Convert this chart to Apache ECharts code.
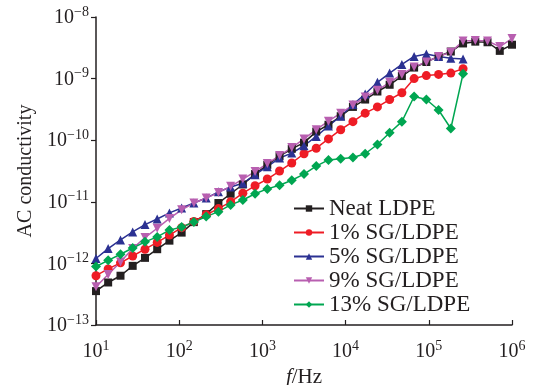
<!DOCTYPE html>
<html>
<head>
<meta charset="utf-8">
<script src="https://cdn.jsdelivr.net/npm/echarts@6/dist/echarts.min.js"></script>
<style>
  html, body { margin: 0; padding: 0; background: #fff; }
  #chart { width: 535px; height: 385px; }
</style>
</head>
<body>
<div id="chart"></div>
<script>
// frequency (Hz)
var freq = [10, 14, 19.7, 27.6, 38.8, 54.4, 76.3, 107, 150, 211, 296, 415, 582, 816, 1145, 1607, 2254, 3162,
  4437, 6225, 8733, 12250, 17190, 24120, 33840, 47480, 66610, 93450, 131100, 184000, 258100, 362100, 508000, 712800, 1000000];

var neatLDPE = [3.55e-13, 4.90e-13, 6.31e-13, 9.12e-13, 1.23e-12, 1.70e-12, 2.34e-12, 3.16e-12, 4.68e-12, 6.31e-12,
  9.55e-12, 1.35e-11, 1.91e-11, 2.82e-11, 3.98e-11, 5.50e-11, 7.24e-11, 9.12e-11, 1.38e-10, 1.78e-10,
  2.45e-10, 3.47e-10, 4.57e-10, 6.17e-10, 7.94e-10, 1.10e-9, 1.51e-9, 1.86e-9, 2.29e-9, 2.75e-9,
  3.72e-9, 3.98e-9, 3.89e-9, 2.82e-9, 3.55e-9];

var sg1 = [6.31e-13, 8.13e-13, 1.02e-12, 1.32e-12, 1.70e-12, 2.19e-12, 2.88e-12, 3.80e-12, 4.79e-12, 6.17e-12,
  7.76e-12, 1.00e-11, 1.38e-11, 1.82e-11, 2.34e-11, 3.16e-11, 4.27e-11, 6.03e-11, 7.41e-11, 1.05e-10,
  1.48e-10, 2.00e-10, 2.75e-10, 3.47e-10, 4.57e-10, 5.89e-10, 1.00e-9, 1.12e-9, 1.17e-9, 1.23e-9,
  1.45e-9];

var sg5 = [1.20e-12, 1.74e-12, 2.40e-12, 3.24e-12, 4.27e-12, 5.25e-12, 6.61e-12, 7.94e-12, 9.55e-12, 1.15e-11,
  1.45e-11, 1.74e-11, 2.00e-11, 2.75e-11, 3.72e-11, 5.13e-11, 6.17e-11, 8.13e-11, 1.15e-10, 1.70e-10,
  2.45e-10, 3.80e-10, 5.62e-10, 8.71e-10, 1.23e-9, 1.70e-9, 2.29e-9, 2.51e-9, 2.29e-9, 2.14e-9,
  2.09e-9];

var sg9 = [4.17e-13, 6.61e-13, 1.05e-12, 1.74e-12, 2.63e-12, 3.72e-12, 5.37e-12, 7.41e-12, 9.55e-12, 1.15e-11,
  1.41e-11, 1.78e-11, 2.34e-11, 3.09e-11, 4.17e-11, 5.62e-11, 7.59e-11, 1.05e-10, 1.48e-10, 2.04e-10,
  2.75e-10, 3.72e-10, 5.01e-10, 6.46e-10, 8.71e-10, 1.17e-9, 1.55e-9, 1.86e-9, 2.29e-9, 2.69e-9,
  4.07e-9, 4.17e-9, 4.07e-9, 3.31e-9, 4.47e-9];

var sg13 = [8.91e-13, 1.12e-12, 1.41e-12, 1.78e-12, 2.24e-12, 2.69e-12, 3.47e-12, 3.89e-12, 4.68e-12, 5.75e-12,
  6.92e-12, 8.91e-12, 1.07e-11, 1.35e-11, 1.62e-11, 1.86e-11, 2.24e-11, 2.82e-11, 3.80e-11, 4.79e-11,
  5.01e-11, 5.25e-11, 6.03e-11, 8.51e-11, 1.32e-10, 2.00e-10, 5.13e-10, 4.57e-10, 3.09e-10, 1.55e-10,
  1.20e-9];

var names = ['Neat LDPE', '1% SG/LDPE', '5% SG/LDPE', '9% SG/LDPE', '13% SG/LDPE'];
var colors = ['#231f20', '#ee1c25', '#2b3192', '#b85fb0', '#00a651'];

var font = 'Liberation Serif, Times New Roman, serif';
var chart = echarts.init(document.getElementById('chart'));

function pairs(ys) {
  return ys.map(function (v, i) { return [freq[i], v]; });
}

// 10^n 标签
function powLabel(v) {
  var e = Math.round(Math.log(v) / Math.LN10);
  return '{a|10}{b|' + String(e).replace('-', '\u2212') + '}';
}
var powRich = {
  a: { fontSize: 20, fontFamily: font, color: '#231f20', verticalAlign: 'bottom', lineHeight: 22 },
  b: { fontSize: 14, fontFamily: font, color: '#231f20', verticalAlign: 'bottom', lineHeight: 22, padding: [0, 0, 9, 0] }
};

function makeSeries(i, data, symbol, size, rotate) {
  return {
    name: names[i],
    type: 'line',
    data: pairs(data),
    symbol: symbol,
    symbolSize: size,
    symbolRotate: rotate || 0,
    showAllSymbol: true,
    lineStyle: { color: colors[i], width: 1.5 },
    itemStyle: { color: colors[i] }
  };
}

var option = {
  animation: false,
  grid: { left: 96, right: 23, top: 17, bottom: 60, containLabel: false, outerBoundsMode: 'none' },
  legend: {
    orient: 'vertical',
    left: 288,
    top: 192,
    itemWidth: 30,
    itemHeight: 8,
    itemGap: 1,
    textStyle: { fontSize: 23, fontFamily: font, color: '#231f20', lineHeight: 23 },
    data: names
  },
  xAxis: {
    type: 'log',
    logBase: 10,
    min: 10,
    max: 1000000,
    name: '{i|f}/Hz',
    nameLocation: 'middle',
    nameGap: 40,
    nameTextStyle: {
      fontSize: 21, fontFamily: font, color: '#231f20',
      rich: { i: { fontSize: 21, fontFamily: font, fontStyle: 'italic', color: '#231f20' } }
    },
    axisLine: { onZero: false, lineStyle: { color: '#231f20', width: 1.5 } },
    axisTick: { inside: true, length: 5, lineStyle: { color: '#231f20', width: 1.2 } },
    minorTick: { show: false },
    splitLine: { show: false },
    axisLabel: { margin: 15, formatter: powLabel, rich: powRich }
  },
  yAxis: {
    type: 'log',
    logBase: 10,
    min: 1e-13,
    max: 1e-8,
    name: 'AC conductivity',
    nameLocation: 'middle',
    nameRotate: 90,
    nameGap: 60,
    nameTextStyle: { fontSize: 20, fontFamily: font, color: '#231f20' },
    axisLine: { onZero: false, lineStyle: { color: '#231f20', width: 1.5 } },
    axisTick: { length: 5, lineStyle: { color: '#231f20', width: 1.2 } },
    splitLine: { show: false },
    axisLabel: { margin: 7, formatter: powLabel, rich: powRich }
  },
  series: [
    makeSeries(0, neatLDPE, 'rect', 8),
    makeSeries(1, sg1, 'circle', 9),
    makeSeries(2, sg5, 'triangle', 9),
    makeSeries(3, sg9, 'triangle', 9, 180),
    makeSeries(4, sg13, 'diamond', 10)
  ]
};
chart.setOption(option);
</script>
</body>
</html>
